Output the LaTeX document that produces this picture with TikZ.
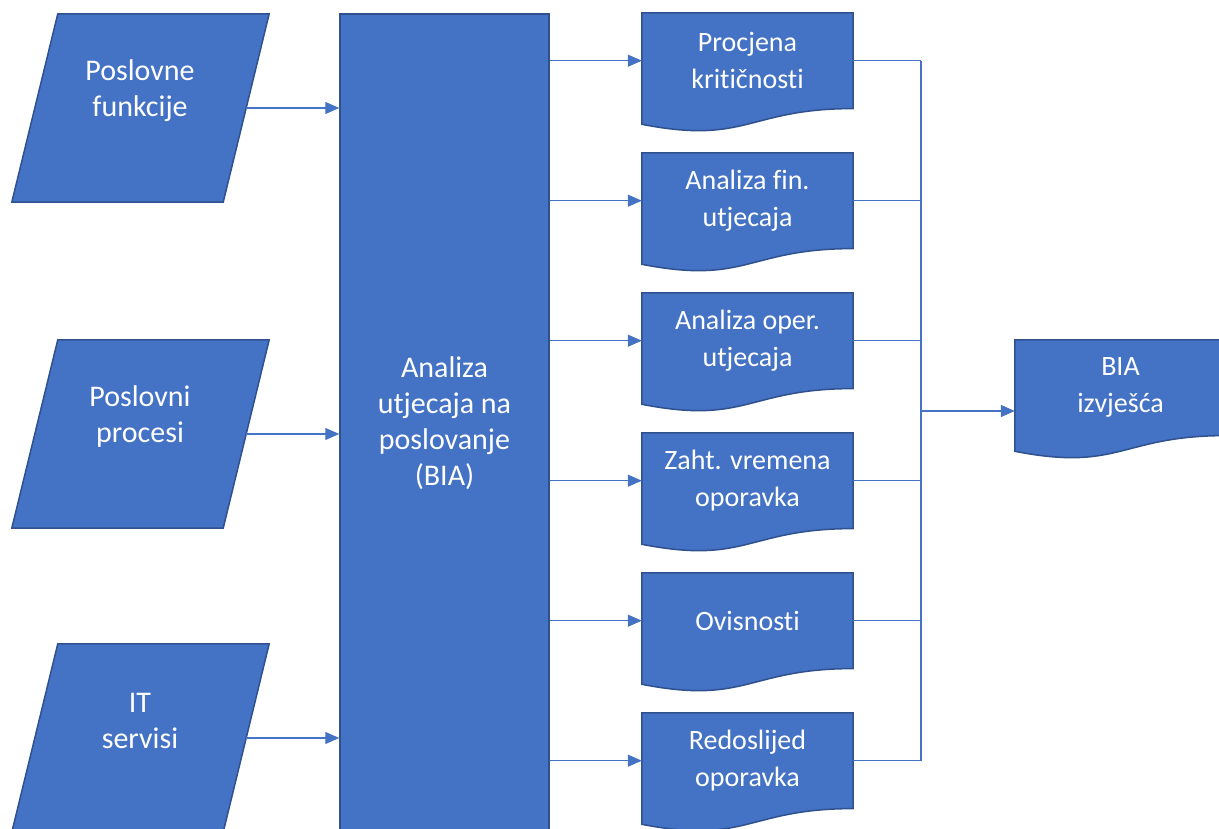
\documentclass[tikz,border=0pt]{standalone}
\usepackage{fontspec}
\setmainfont{Carlito}[Ligatures=NoCommon]
\usetikzlibrary{arrows.meta,backgrounds}
\definecolor{boxblue}{HTML}{4472C4}
\definecolor{edgeblue}{HTML}{2F528F}
\newcommand{\bigtxt}{\fontsize{30}{36}\selectfont}
\newcommand{\doctxt}{\fontsize{28}{37}\selectfont}

\begin{document}
\begin{tikzpicture}[x=1pt,y=1pt,
  inputbox/.style={rectangle,minimum width=211,minimum height=188,inner sep=0},
  intext/.style={text=white,font=\bigtxt,align=center,inner sep=0},
  mainbox/.style={rectangle,minimum width=209,minimum height=818,fill=boxblue,
    draw=edgeblue,line width=1.5,text=white,font=\bigtxt,align=center},
  docbox/.style={rectangle,minimum width=211,minimum height=95.4,inner sep=0,
    text=white,font=\doctxt,align=center},
  shapefill/.style={fill=boxblue,draw=edgeblue,line width=1.5},
  conn/.style={draw=boxblue,line width=1.3},
  arr/.style={conn,-{Triangle[length=14pt,width=12pt]}}]
\useasboundingbox (0,0) rectangle (1219,828);
\clip (0,0) rectangle (1219,828);

% inputs
\node[inputbox] (pf) at (140.5,720){};
\node[inputbox] (pp) at (140.5,394){};
\node[inputbox] (its) at (140.5,90){};
\node[intext] (pft) at (140,737){Poslovne\\funkcije};
\node[intext] (ppt) at (140,411){Poslovni\\procesi};
\node[intext] (itst) at (140,107){IT\\servisi};

\node[mainbox] (bia) at (444.5,405){Analiza\\utjecaja na\\poslovanje\\(BIA)};

% outputs
\node[docbox] (proc) at (747.5,767.3){Procjena\\kritičnosti};
\node[docbox] (fin) at (747.5,627.3){Analiza fin.\\utjecaja};
\node[docbox] (oper) at (747.5,487.3){Analiza oper.\\utjecaja};
\node[docbox] (zaht) at (747.5,347.3){Zaht. vremena\\oporavka};
\node[docbox] (ovis) at (747.5,207.3){Ovisnosti};
\node[docbox] (redo) at (747.5,67.3){Redoslijed\\oporavka};
\node[docbox] (izv) at (1120.5,440.3){BIA\\izvješća};
\coordinate (bus) at (921,417);

\begin{scope}[on background layer]
\foreach \n in {pf,pp,its}
  \filldraw[shapefill] ([xshift=23]\n.north west) -- ([xshift=23]\n.north east)
    -- ([xshift=-23]\n.south east) -- ([xshift=-23]\n.south west) -- cycle;
\foreach \n in {proc,fin,oper,zaht,ovis,redo,izv}
  \filldraw[shapefill] (\n.south east) -- (\n.north east)
    -- (\n.north west) -- ([yshift=-15.7]\n.south west)
    .. controls +(105.5,-20.7) and +(-105.5,0) .. (\n.south east) -- cycle;
\end{scope}

\draw[arr] (pf.east) -- (pf.east -| bia.west);
\draw[arr] (pp.east) -- (pp.east -| bia.west);
\draw[arr] (its.east) -- (its.east -| bia.west);

\foreach \n in {proc,fin,oper,zaht,ovis,redo}{
  \draw[arr] (\n.west -| bia.east) -- (\n.west);
  \draw[conn] (\n.east) -- (\n.east -| bus);
}
\draw[conn] (proc.east -| bus) -- (redo.east -| bus);
\draw[arr] (bus) -- (bus -| izv.west);
\end{tikzpicture}
\end{document}
